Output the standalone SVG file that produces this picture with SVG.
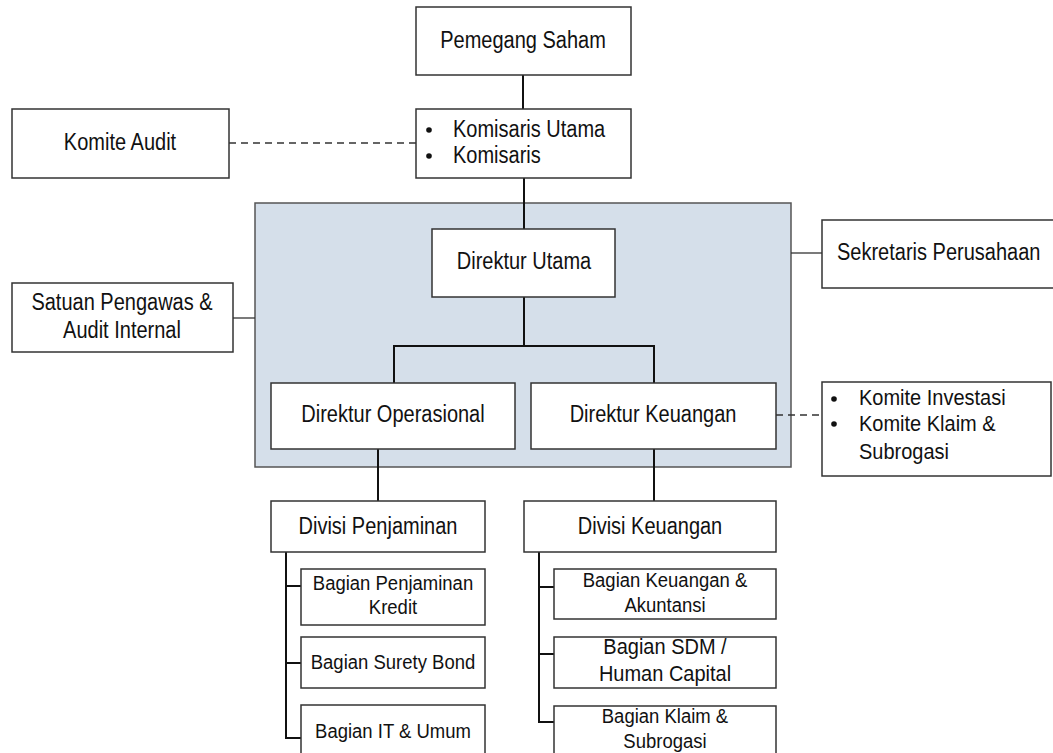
<svg xmlns="http://www.w3.org/2000/svg" width="1053" height="753" viewBox="0 0 1053 753">
<style>
.box{fill:#fff;stroke:#333;stroke-width:1.5}
.t{font-family:"Liberation Sans",Arial,sans-serif;font-size:20px;fill:#111}
.s{font-family:"Liberation Sans",Arial,sans-serif;font-size:18.5px;fill:#111}
.c{text-anchor:middle}
.ln{stroke:#111;stroke-width:2;fill:none}
.dash{stroke:#333;stroke-width:1.3;stroke-dasharray:7,5;fill:none}
.thin{stroke:#333;stroke-width:1.3;fill:none}
</style>
<rect x="0" y="0" width="1053" height="753" fill="#fff"/>
<g id="direksi-area"><rect x="255" y="203" width="536" height="264" fill="#d5dfea" stroke="#555" stroke-width="1.5"/></g>
<g id="connectors">
<line class="ln" x1="523" y1="75" x2="523" y2="109"/>
<line class="ln" x1="524" y1="178" x2="524" y2="229"/>
<line class="dash" x1="229" y1="143" x2="416" y2="143"/>
<line class="thin" x1="233" y1="318" x2="255" y2="318"/>
<line class="thin" x1="791" y1="253" x2="822" y2="253"/>
<line class="dash" x1="776" y1="415" x2="822" y2="415"/>
<polyline class="ln" points="524,297 524,346"/>
<polyline class="ln" points="394,383 394,346 654,346 654,383"/>
<line class="ln" x1="378" y1="449" x2="378" y2="501"/>
<line class="ln" x1="654" y1="449" x2="654" y2="501"/>
<polyline class="ln" points="286,552 286,738 301,738"/>
<line class="ln" x1="286" y1="586" x2="301" y2="586"/>
<line class="ln" x1="286" y1="663" x2="301" y2="663"/>
<polyline class="ln" points="539,552 539,722 554,722"/>
<line class="ln" x1="539" y1="587" x2="554" y2="587"/>
<line class="ln" x1="539" y1="654" x2="554" y2="654"/>
</g>
<g id="pemegang-saham"><rect class="box" x="416" y="7" width="215" height="68"/><text class="t c" transform="translate(523 48) scale(1 1.15)">Pemegang Saham</text></g>
<g id="komisaris"><rect class="box" x="416" y="109" width="215" height="69"/>
<circle cx="429" cy="130" r="2.8" fill="#111"/><circle cx="429" cy="156" r="2.8" fill="#111"/>
<text class="t" transform="translate(453 137) scale(1 1.15)">Komisaris Utama</text><text class="t" transform="translate(453 163) scale(1 1.15)">Komisaris</text></g>
<g id="komite-audit"><rect class="box" x="12" y="109" width="217" height="69"/><text class="t c" transform="translate(120 150) scale(1 1.15)">Komite Audit</text></g>
<g id="satuan-pengawas"><rect class="box" x="12" y="283" width="221" height="69"/><text class="t c" transform="translate(122 310) scale(1 1.15)">Satuan Pengawas &amp;</text><text class="t c" transform="translate(122 338) scale(1 1.15)">Audit Internal</text></g>
<g id="direktur-utama"><rect class="box" x="432" y="229" width="183" height="68"/><text class="t c" transform="translate(524 269) scale(1 1.15)">Direktur Utama</text></g>
<g id="direktur-operasional"><rect class="box" x="271" y="383" width="244" height="66"/><text class="t c" transform="translate(393 422) scale(1 1.15)">Direktur Operasional</text></g>
<g id="direktur-keuangan"><rect class="box" x="531" y="383" width="245" height="66"/><text class="t c" transform="translate(653 422) scale(1 1.15)">Direktur Keuangan</text></g>
<g id="sekretaris"><rect class="box" x="822" y="220" width="240" height="68"/><text class="t" transform="translate(837 260) scale(1 1.15)">Sekretaris Perusahaan</text></g>
<g id="komite-investasi"><rect class="box" x="822" y="382" width="229" height="94"/>
<circle cx="834" cy="399" r="2.8" fill="#111"/><circle cx="834" cy="424" r="2.8" fill="#111"/>
<text class="t" transform="translate(859 405) scale(1 1.1)">Komite Investasi</text><text class="t" transform="translate(859 431) scale(1 1.1)">Komite Klaim &amp;</text><text class="t" transform="translate(859 459) scale(1 1.1)">Subrogasi</text></g>
<g id="divisi-penjaminan"><rect class="box" x="271" y="501" width="214" height="51"/><text class="t c" transform="translate(378 534) scale(1 1.15)">Divisi Penjaminan</text></g>
<g id="divisi-keuangan"><rect class="box" x="524" y="501" width="252" height="51"/><text class="t c" transform="translate(650 534) scale(1 1.15)">Divisi Keuangan</text></g>
<g id="bagian-penjaminan-kredit"><rect class="box" x="301" y="569" width="184" height="56"/><text class="s c" transform="translate(393 590) scale(1 1.1)">Bagian Penjaminan</text><text class="s c" transform="translate(393 614) scale(1 1.1)">Kredit</text></g>
<g id="bagian-surety-bond"><rect class="box" x="301" y="637" width="184" height="51"/><text class="s c" transform="translate(393 669) scale(1 1.1)">Bagian Surety Bond</text></g>
<g id="bagian-it-umum"><rect class="box" x="301" y="705" width="184" height="60"/><text class="s c" transform="translate(393 738) scale(1 1.1)">Bagian IT &amp; Umum</text></g>
<g id="bagian-keuangan-akuntansi"><rect class="box" x="554" y="569" width="222" height="50"/><text class="s c" transform="translate(665 587) scale(1 1.1)">Bagian Keuangan &amp;</text><text class="s c" transform="translate(665 612) scale(1 1.1)">Akuntansi</text></g>
<g id="bagian-sdm"><rect class="box" x="554" y="637" width="222" height="51"/><text class="t c" transform="translate(665 654) scale(1 1.1)">Bagian SDM /</text><text class="t c" transform="translate(665 681) scale(1 1.1)">Human Capital</text></g>
<g id="bagian-klaim"><rect class="box" x="554" y="706" width="222" height="60"/><text class="s c" transform="translate(665 723) scale(1 1.1)">Bagian Klaim &amp;</text><text class="s c" transform="translate(665 748) scale(1 1.1)">Subrogasi</text></g>
</svg>
